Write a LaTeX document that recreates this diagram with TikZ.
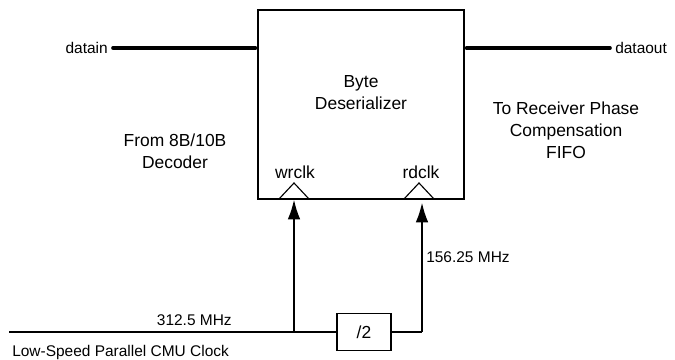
\documentclass[tikz,border=0pt]{standalone}
\usepackage{fontspec}
\setmainfont{Liberation Sans}
\usetikzlibrary{arrows.meta,positioning,calc}

\tikzset{
  blk/.style={draw,line width=1pt,inner sep=0pt},
  bus/.style={line width=2.6pt,line cap=round},
  wire/.style={line width=1.1pt},
  clkarrow/.style={line width=1.1pt,-{Latex[length=14pt,width=9pt]}},
  bigtxt/.style={font=\fontsize{12.4}{15.6}\selectfont,align=center,inner sep=0pt},
  smalltxt/.style={font=\fontsize{11}{13}\selectfont,inner sep=0pt}
}

\begin{document}
\begin{tikzpicture}[x=0.025cm,y=0.025cm]
\useasboundingbox (0,0) rectangle (675,360);

% Byte deserializer block
\node[blk,minimum width=5.15cm,minimum height=4.725cm] (deser) at (361,255.5) {};
\node[bigtxt] (title) at (361,267) {Byte\\Deserializer};
\node[bigtxt,anchor=base] (wrlbl) at (295,181) {wrclk};
\node[bigtxt,anchor=base] (rdlbl) at (421,181) {rdclk};

% clock input triangles
\coordinate (wrin) at (294,161);
\coordinate (rdin) at (419,161);
\draw[line width=0.8pt] ($(wrin)+(-15,0)$) -- ($(wrin)+(0,16)$) -- ($(wrin)+(15,0)$);
\draw[line width=0.8pt] ($(rdin)+(-15,0)$) -- ($(rdin)+(0,16)$) -- ($(rdin)+(15,0)$);

% data in / data out
\node[smalltxt,anchor=east] (din) at (108,312) {datain};
\node[smalltxt,anchor=west] (dout) at (615,312) {dataout};
\draw[bus,shorten >=1.3pt] ($(din.east)+(5,0)$) -- (din.east -| deser.west);
\draw[bus,shorten <=1.3pt] (dout.west -| deser.east) -- ($(dout.west)+(-5,0)$);

% side notes
\node[bigtxt] (src) at (175,209) {From 8B/10B\\Decoder};
\node[bigtxt] (dst) at (566,230) {To Receiver Phase\\Compensation\\FIFO};

% low-speed clock and divider
\node[blk,minimum width=1.35cm,minimum height=0.925cm,font=\fontsize{12.4}{15}\selectfont] (div) at (364,28) {/2};
\coordinate (clkin) at (9,28);
\coordinate (split) at (294,28);
\coordinate (rdturn) at (422,28);
\draw[wire] (clkin) -- (div.west);
\draw[clkarrow] (split) -- (split |- deser.south);
\draw[wire] (div.east) -- (rdturn);
\draw[clkarrow] (rdturn) -- ($(rdturn |- deser.south)+(0,-3)$);

% clock labels
\node[smalltxt,anchor=east] (fast) at (232,40) {312.5 MHz};
\node[smalltxt,anchor=west] (cmu) at (12,7) {Low-Speed Parallel CMU Clock};
\node[smalltxt,anchor=west] (slow) at (426,103) {156.25 MHz};
\end{tikzpicture}
\end{document}
